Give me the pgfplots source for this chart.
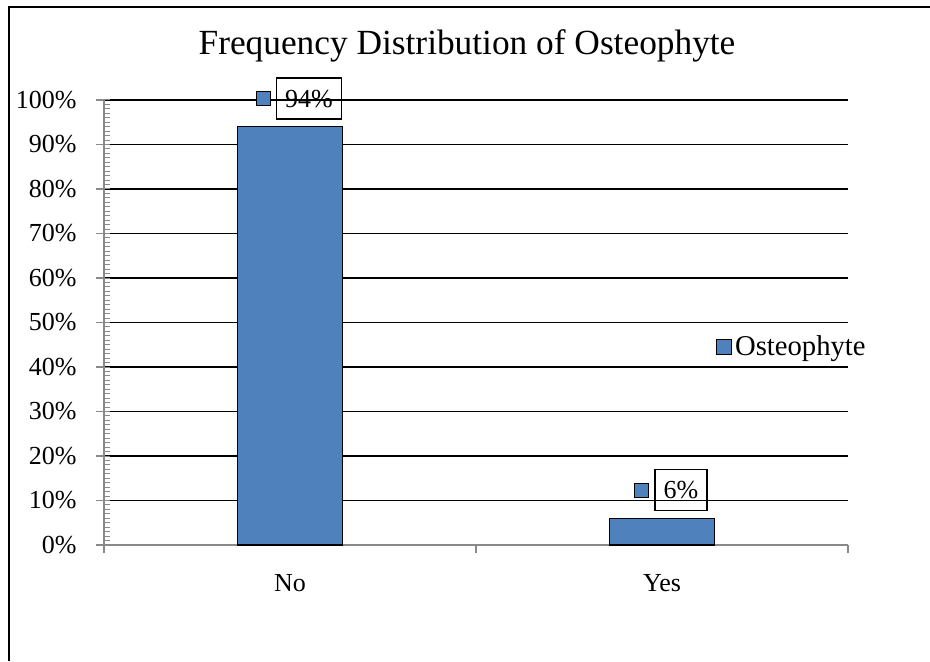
\documentclass[border=0pt]{standalone}
\usepackage{pgfplots}
\pgfplotsset{compat=1.18}
\usepackage{fontspec}
\setmainfont{Liberation Serif}
\definecolor{barblue}{HTML}{4F81BD}
\definecolor{axgray}{HTML}{898989}
\begin{document}
\begin{tikzpicture}[x=0.75pt,y=0.75pt]
\useasboundingbox (0,0) rectangle (930,661);
% chart frame (only top and left edges are inside the picture)
\draw[line width=1.5pt] (9,0) -- (9,653.5) -- (930,653.5);
\node[font=\fontsize{26.5}{30}\selectfont, anchor=base] at (467,606) {Frequency Distribution of Osteophyte};
\begin{axis}[
  at={(78pt,87pt)}, anchor=south west,
  scale only axis, width=558pt, height=333.75pt,
  xmin=-0.5, xmax=1.5, ymin=0, ymax=100,
  axis lines=left, axis line style={-, axgray, line width=1.2pt},
  ymajorgrids, grid style={black, line width=1.1pt},
  ytick={10,20,...,100},
  yticklabels={10\%,20\%,30\%,40\%,50\%,60\%,70\%,80\%,90\%,100\%},
  extra y ticks={0}, extra y tick labels={0\%}, extra y tick style={grid=none},
  minor ytick={0,1,...,100},
  tick align=outside, major tick length=6pt, minor tick length=4.5pt,
  major tick style={axgray, line width=1.2pt},
  minor tick style={axgray, line width=0.75pt, xshift=4.5pt},
  xtick={-0.5,0.5,1.5}, xticklabels={},
  extra x ticks={0,1}, extra x tick labels={No,Yes},
  extra x tick style={major tick length=0pt},
  tick label style={font=\fontsize{19.5}{22}\selectfont},
  yticklabel style={xshift=-11pt},
  xticklabel style={yshift=-18.5pt},
  legend style={draw=none, fill=none, at={(0.8226,0.445)}, anchor=west,
    font=\fontsize{21.5}{24}\selectfont, inner sep=0pt},
]
\addplot[ybar, bar width=78.75pt, fill=barblue, draw=black, line width=1.1pt,
  point meta=explicit symbolic, nodes near coords,
  every node near coord/.append style={yshift=5.25pt, xshift=14.25pt,
    draw=black, line width=0.9pt, inner xsep=6.5pt, minimum height=30.75pt,
    text=black, font=\fontsize{19.5}{22}\selectfont,
    label={[draw=black, fill=barblue, line width=0.9pt, minimum size=10.5pt,
      inner sep=0pt, label distance=3.75pt]left:{}}},
  legend image code/.code={\draw[fill=barblue, draw=black, line width=0.9pt]
    (0pt,-5.6pt) rectangle (11.2pt,5.6pt);}]
  coordinates {(0,94) [94\%] (1,6) [6\%]};
\addlegendentry{Osteophyte}
\end{axis}
\end{tikzpicture}
\end{document}
